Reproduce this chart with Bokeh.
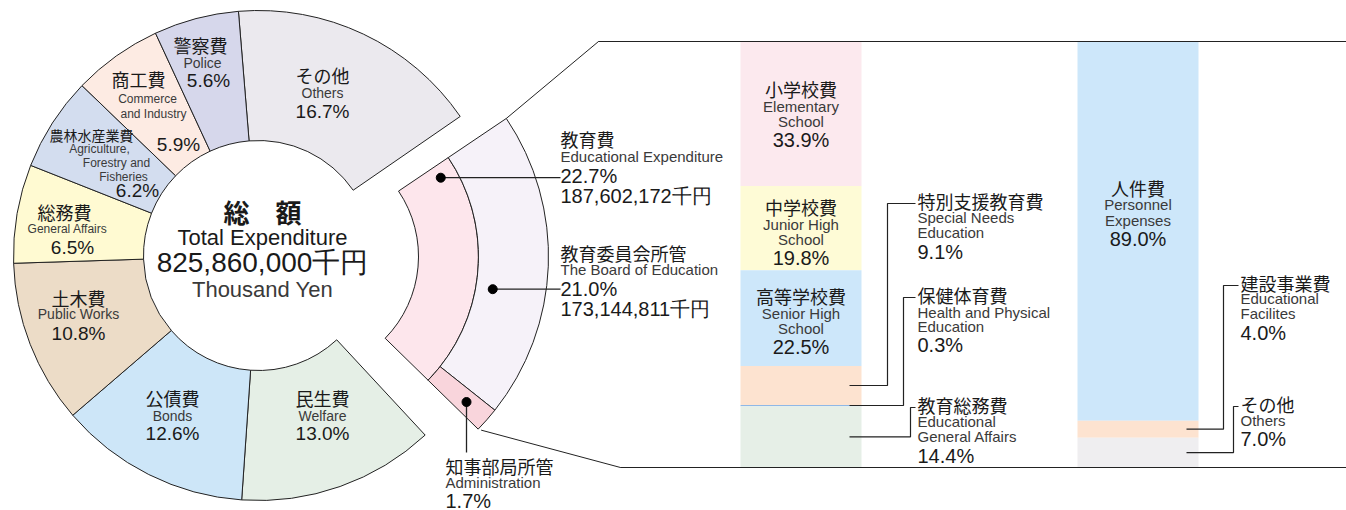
import math
from bokeh.plotting import figure
from bokeh.models import Range1d, ColumnDataSource
from bokeh.core.properties import value
from bokeh.embed import file_html
from bokeh.resources import INLINE

# ---------------- data ----------------
donut_ja = ["その他", "教育費", "民生費", "公債費", "土木費", "総務費", "農林水産業費", "商工費", "警察費"]
donut_en = ["Others", "Educational Expenditure", "Welfare", "Bonds", "Public Works",
            "General Affairs", "Agriculture,|Forestry and|Fisheries", "Commerce|and Industry", "Police"]
donut_pct = [16.7, 22.7, 13.0, 12.6, 10.8, 6.5, 6.2, 5.9, 5.6]
donut_colors = ["#ebe9ee", "#fde6ec", "#e5efe6", "#cde6f8", "#ecdcc7",
                "#fffad2", "#d3ddef", "#fdebe3", "#d6d7eb"]

total_ja = "総　額"
total_en = "Total Expenditure"
total_amount = "825,860,000千円"
total_unit = "Thousand Yen"

edu_amount = "187,602,172千円"
split_ja = ["教育委員会所管", "知事部局所管"]
split_en = ["The Board of Education", "Administration"]
split_pct = [21.0, 1.7]
split_amount = ["173,144,811千円", ""]
split_colors = ["#f6f2f9", "#f9d5dc"]

purpose_ja = ["小学校費", "中学校費", "高等学校費", "特別支援教育費", "保健体育費", "教育総務費"]
purpose_en = ["Elementary|School", "Junior High|School", "Senior High|School",
              "Special Needs|Education", "Health and Physical|Education", "Educational|General Affairs"]
purpose_pct = [33.9, 19.8, 22.5, 9.1, 0.3, 14.4]
purpose_colors = ["#fce9ee", "#fefbd6", "#cde7fa", "#fde3d0", "#8fb8e6", "#e6efe7"]

nature_ja = ["人件費", "建設事業費", "その他"]
nature_en = ["Personnel|Expenses", "Educational|Facilites", "Others"]
nature_pct = [89.0, 4.0, 7.0]
nature_colors = ["#cde7fa", "#fde3d0", "#efeef0"]

# ---------------- layout helpers ----------------
W, H = 1346, 510
JA_FONT = "Noto Sans CJK JP"
EN_FONT = "Liberation Sans"
JA_COL = "#1a1a1a"
EN_COL = "#3a3a3a"
LINE = "#222222"


def Y(ry):
    return H - ry


def polar(cx, cy, r, phi):
    a = math.radians(phi)
    return cx + r * math.sin(a), Y(cy) + r * math.cos(a)


p = figure(width=W, height=H, x_range=Range1d(0, W), y_range=Range1d(0, H),
           output_backend="svg", toolbar_location=None, min_border=0)
p.axis.visible = False
p.grid.visible = False
p.outline_line_color = None
p.background_fill_color = "white"
p.border_fill_color = "white"


def txt(x, ry, s, size, font=JA_FONT, color=JA_COL, align="center", bold=False):
    if not s:
        return
    p.text(x=[x], y=[Y(ry)], text=[s], text_font=value(font), text_font_size=size,
           text_align=align, text_baseline="middle", text_color=color,
           text_font_style="bold" if bold else "normal")


def pct(v):
    return f"{v:.1f}%"


# ---------------- main donut ----------------
CX, CY, R_IN, R_OUT = 258, 255, 115, 245
PHI0 = -4.7
starts, ends = [], []
acc = PHI0
for v in donut_pct:
    starts.append(acc)
    acc += v * 3.6
    ends.append(acc)

idx = [i for i in range(len(donut_pct)) if i != 1]
src = ColumnDataSource(dict(
    x=[CX] * len(idx), y=[Y(CY)] * len(idx),
    start=[math.radians(90 - ends[i]) for i in idx],
    end=[math.radians(90 - starts[i]) for i in idx],
    color=[donut_colors[i] for i in idx]))
p.annular_wedge(x="x", y="y", inner_radius=R_IN, outer_radius=R_OUT,
                start_angle="start", end_angle="end", fill_color="color",
                line_color=LINE, line_width=1, source=src)

# ---------------- exploded education slice ----------------
EX, EY = 301, 256
E_IN, E_MID, E_OUT = 117, 177, 247
phi_a = starts[1] + 0.6
phi_b = ends[1] - 2.8
span = phi_b - phi_a
phi_split = phi_a + span * split_pct[0] / donut_pct[1]

esrc = ColumnDataSource(dict(
    x=[EX] * 3, y=[Y(EY)] * 3,
    rin=[E_IN, E_MID, E_MID], rout=[E_MID, E_OUT, E_OUT],
    start=[math.radians(90 - phi_b), math.radians(90 - phi_split), math.radians(90 - phi_b)],
    end=[math.radians(90 - phi_a), math.radians(90 - phi_a), math.radians(90 - phi_split)],
    color=[donut_colors[1], split_colors[0], split_colors[1]]))
p.annular_wedge(x="x", y="y", inner_radius="rin", outer_radius="rout",
                start_angle="start", end_angle="end", fill_color="color",
                line_color=LINE, line_width=1, source=esrc)

# connector lines to the detail panel
tx, ty = polar(EX, EY, E_OUT, phi_a)
p.line([tx, 598, W], [ty, Y(41), Y(41)], line_color=LINE, line_width=1)
bx, by = polar(EX, EY, E_OUT, phi_b)
p.line([bx + 3, 620, W], [by - 1, Y(467), Y(467)], line_color=LINE, line_width=1)

# leader dots
d1 = polar(EX, EY, 160, 60.5)
d2 = polar(EX, EY, 194, 99.7)
d3 = polar(EX, EY, 220, (phi_split + phi_b) / 2)
p.line([d1[0], 560], [d1[1], d1[1]], line_color=LINE, line_width=1.3)
p.line([d2[0], 560], [d2[1], d2[1]], line_color=LINE, line_width=1.3)
p.line([d3[0], d3[0]], [d3[1], Y(452)], line_color=LINE, line_width=1.3)
p.scatter([d1[0], d2[0], d3[0]], [d1[1], d2[1], d3[1]], size=9, color="black")

# ---------------- bars ----------------
BAR_TOP, BAR_BOT = 41, 467


def stack(pcts):
    tops, bots = [], []
    a = BAR_TOP
    tot = sum(pcts)
    for v in pcts:
        tops.append(a)
        a += v / tot * (BAR_BOT - BAR_TOP)
        bots.append(a)
    return tops, bots


B1L, B1R = 740, 861
B2L, B2R = 1077, 1198
pt, pb = stack(purpose_pct)
nt, nb = stack(nature_pct)
p.quad(left=[B1L] * len(pt), right=[B1R] * len(pt), top=[Y(t) for t in pt],
       bottom=[Y(b) for b in pb], fill_color=purpose_colors, line_color=None)
p.quad(left=[B2L] * len(nt), right=[B2R] * len(nt), top=[Y(t) for t in nt],
       bottom=[Y(b) for b in nb], fill_color=nature_colors, line_color=None)

# redraw top / bottom panel lines over bars
p.line([598, W], [Y(41), Y(41)], line_color=LINE, line_width=1)
p.line([620, W], [Y(467), Y(467)], line_color=LINE, line_width=1)

# ---------------- donut labels ----------------
donut_layout = {
    0: [(322, 74), (322, 92), (322, 111)],
    2: [(322, 397), (322, 415), (322, 433)],
    3: [(172, 397), (172, 415), (172, 433)],
    4: [(78, 297), (78, 313), (78, 333)],
    5: [(64, 211), (67, 228), (72, 247)],
    6: [(91, 134), (99, 148), (116, 162), (123, 176), (137, 190)],
    7: [(138, 78), (147, 98), (153, 113), (178, 144)],
    8: [(200, 44), (202, 62), (208, 80)],
}
condensed = {5, 6, 7}
for i, pos in donut_layout.items():
    en_lines = donut_en[i].split("|")
    txt(pos[0][0], pos[0][1], donut_ja[i], "14px" if i == 6 else "18px")
    for k, line in enumerate(en_lines):
        x, y = pos[1 + k]
        txt(x, y, line, "12px" if i in condensed else "14px", font=EN_FONT, color=EN_COL)
    x, y = pos[-1]
    txt(x, y, pct(donut_pct[i]), "19px", font=EN_FONT)

# center
txt(262, 211, total_ja, "26px", bold=True)
txt(262, 237, total_en, "22px", font=EN_FONT)
txt(262, 262, total_amount, "28px", font=EN_FONT)
txt(262, 289, total_unit, "22px", font=EN_FONT, color=EN_COL)

# education labels
txt(560, 138, donut_ja[1], "18px", align="left")
txt(560, 156, donut_en[1], "15px", font=EN_FONT, color=EN_COL, align="left")
txt(560, 175, pct(donut_pct[1]), "20px", font=EN_FONT, align="left")
txt(560, 195, edu_amount, "20px", font=EN_FONT, align="left")

txt(560, 252, split_ja[0], "18px", align="left")
txt(560, 269, split_en[0], "15px", font=EN_FONT, color=EN_COL, align="left")
txt(560, 288, pct(split_pct[0]), "20px", font=EN_FONT, align="left")
txt(560, 308, split_amount[0], "20px", font=EN_FONT, align="left")

txt(445, 465, split_ja[1], "18px", align="left")
txt(445, 482, split_en[1], "15px", font=EN_FONT, color=EN_COL, align="left")
txt(445, 500, pct(split_pct[1]), "20px", font=EN_FONT, align="left")

# ---------------- bar labels ----------------
inside_p = {0: [88, 106, 121, 139], 1: [206, 224, 239, 257], 2: [295, 313, 328, 346]}
for i, ys in inside_p.items():
    cx = (B1L + B1R) / 2
    en_lines = purpose_en[i].split("|")
    txt(cx, ys[0], purpose_ja[i], "18px")
    for k, line in enumerate(en_lines):
        txt(cx, ys[1 + k], line, "15px", font=EN_FONT, color=EN_COL)
    txt(cx, ys[-1], pct(purpose_pct[i]), "20px", font=EN_FONT)

inside_n = {0: [187, 204, 220, 238]}
for i, ys in inside_n.items():
    cx = (B2L + B2R) / 2
    en_lines = nature_en[i].split("|")
    txt(cx, ys[0], nature_ja[i], "18px")
    for k, line in enumerate(en_lines):
        txt(cx, ys[1 + k], line, "15px", font=EN_FONT, color=EN_COL)
    txt(cx, ys[-1], pct(nature_pct[i]), "20px", font=EN_FONT)


def side_labels(ja, en, pcts, tops, bots, bar_right, lab_x, layout):
    for i, (elbow, ys) in layout.items():
        mid = (tops[i] + bots[i]) / 2
        sx = bar_right - 12
        p.line([sx, elbow, elbow, lab_x - 2],
               [Y(mid), Y(mid), Y(ys[0] + 3), Y(ys[0] + 3)],
               line_color=LINE, line_width=1.2)
        txt(lab_x, ys[0], ja[i], "18px", align="left")
        for k, line in enumerate(en[i].split("|")):
            txt(lab_x, ys[1 + k], line, "15px", font=EN_FONT, color=EN_COL, align="left")
        txt(lab_x, ys[-1], pct(pcts[i]), "20px", font=EN_FONT, align="left")


side_labels(purpose_ja, purpose_en, purpose_pct, pt, pb, B1R, 917,
            {3: (887, [200, 217, 232, 251]), 4: (903, [294, 312, 326, 344]),
             5: (910, [404, 421, 436, 455])})
side_labels(nature_ja, nature_en, nature_pct, nt, nb, B2R, 1240,
            {1: (1223, [282, 298, 313, 332]), 2: (1233, [403, 420, 438])})

open("out.html", "w").write(file_html(p, INLINE))
